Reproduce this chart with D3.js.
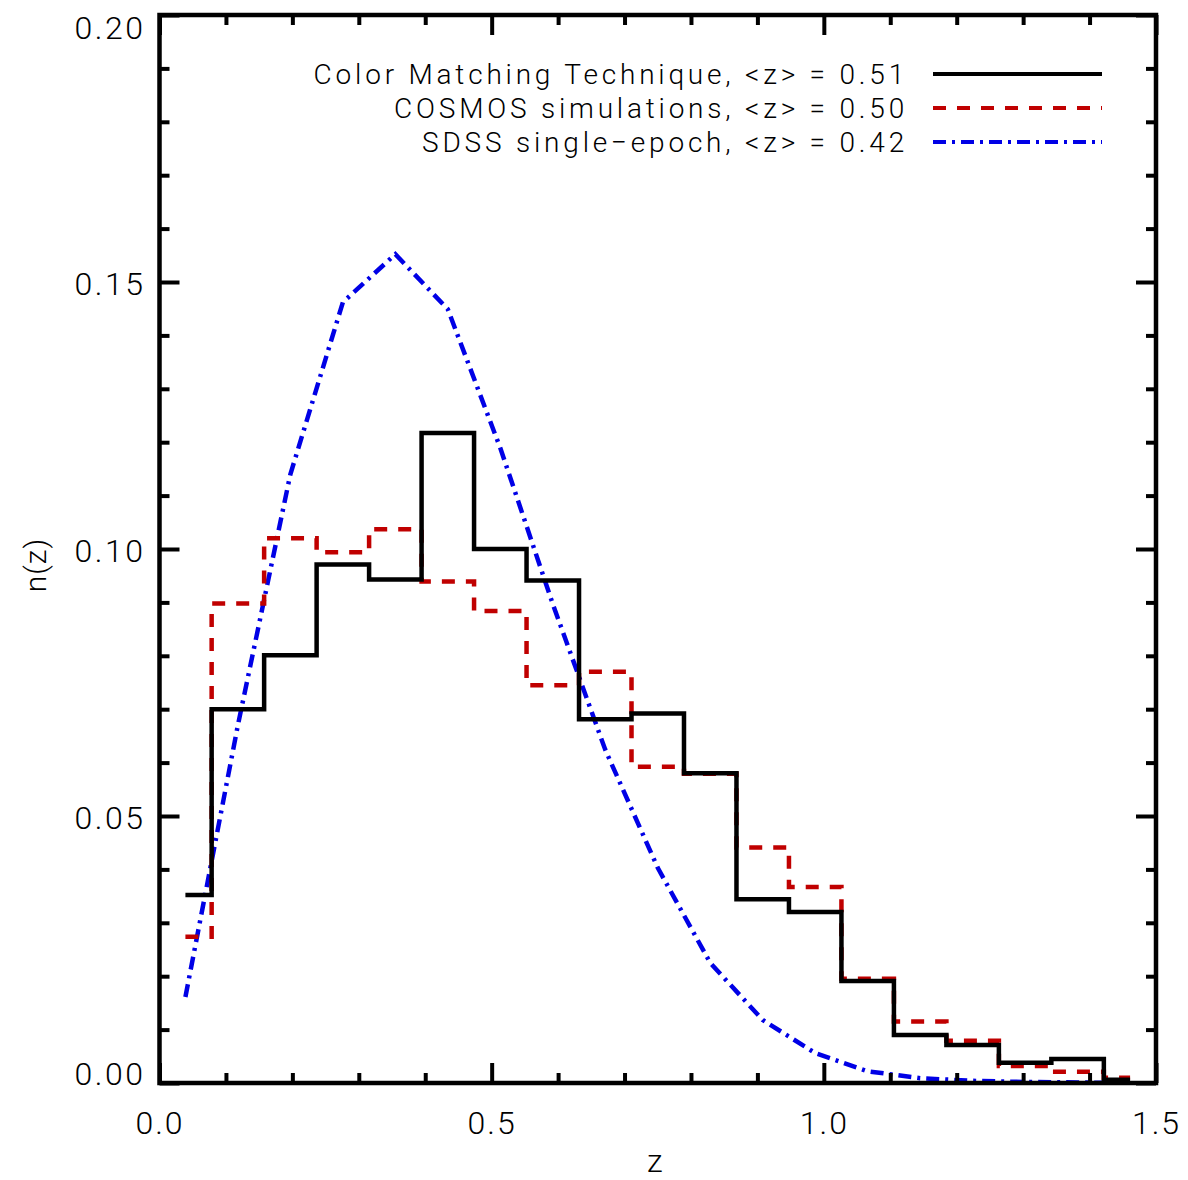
<!DOCTYPE html>
<html>
<head>
<meta charset="utf-8">
<script src="https://cdn.jsdelivr.net/npm/d3@7"></script>
<style>
  body { margin: 0; background: #fff; }
  text { font-family: Roboto, "DejaVu Sans", sans-serif; font-weight: 300; fill: #000; }
</style>
</head>
<body>
<script>
// bin centres in z (19 bins across 0 - 1.5)
const zCenters = [0.039, 0.118, 0.197, 0.276, 0.355, 0.434, 0.513, 0.592, 0.671, 0.750,
                  0.829, 0.908, 0.987, 1.066, 1.145, 1.224, 1.303, 1.382, 1.461];

// Color Matching Technique
const cmtValues = [0.0352, 0.0700, 0.0801, 0.0971, 0.0943, 0.1217, 0.1000, 0.0941, 0.0681, 0.0692,
                   0.0580, 0.0344, 0.0320, 0.0191, 0.0090, 0.0071, 0.0038, 0.0045, 0.0006];
// COSMOS simulations
const cosmosValues = [0.0274, 0.0898, 0.1020, 0.0994, 0.1037, 0.0939, 0.0884, 0.0745, 0.0770, 0.0592,
                      0.0579, 0.0441, 0.0367, 0.0195, 0.0115, 0.0079, 0.0032, 0.0021, 0.0010];
// SDSS single-epoch
const sdssValues = [0.0161, 0.0670, 0.1140, 0.1462, 0.1552, 0.1449, 0.1189, 0.0897, 0.0624, 0.0403,
                    0.0225, 0.0118, 0.0056, 0.0022, 0.0009, 0.0004, 0.0002, 0.0001, 0.0000];

const legendLabels = ["Color Matching Technique, <z> = 0.51",
                      "COSMOS simulations, <z> = 0.50",
                      "SDSS single\u2212epoch, <z> = 0.42"];

const xMajorTicks = [0, 0.5, 1.0, 1.5];
const xTickLabels = ["0.0", "0.5", "1.0", "1.5"];
const xMinorTicks = [0.1, 0.2, 0.3, 0.4, 0.6, 0.7, 0.8, 0.9, 1.1, 1.2, 1.3, 1.4];
const yMajorTicks = [0, 0.05, 0.10, 0.15, 0.20];
const yTickLabels = ["0.00", "0.05", "0.10", "0.15", "0.20"];
const yMinorTicks = [0.01, 0.02, 0.03, 0.04, 0.06, 0.07, 0.08, 0.09,
                     0.11, 0.12, 0.13, 0.14, 0.16, 0.17, 0.18, 0.19];

const w = 1188;
const h = 1180;
const pLeft = 159.5, pRight = 1156, pTop = 15, pBottom = 1083;

const svg = d3.select("body")
  .append("svg")
  .attr("width", w)
  .attr("height", h);

const xScale = d3.scaleLinear().domain([0, 1.5]).range([pLeft, pRight]);
const yScale = d3.scaleLinear().domain([0, 0.2]).range([pBottom, pTop]);

svg.append("clipPath").attr("id", "plotclip")
  .append("rect")
  .attr("x", pLeft).attr("y", pTop)
  .attr("width", pRight - pLeft).attr("height", pBottom - pTop);

// series
const series = [
  { values: cmtValues, color: "#000000", dash: null, curve: d3.curveStep },
  { values: cosmosValues, color: "#c00000", dash: "13,11", curve: d3.curveStep },
  { values: sdssValues, color: "#0000e6", dash: "13,6,3,6", curve: d3.curveLinear }
];

const plot = svg.append("g").attr("clip-path", "url(#plotclip)");

// draw the smooth curve first, then the dashed and solid histograms
[2, 1, 0].forEach((i) => {
  const s = series[i];
  const line = d3.line()
    .x((d, j) => xScale(zCenters[j]))
    .y((d) => yScale(d))
    .curve(s.curve);
  plot.append("path")
    .datum(s.values)
    .attr("d", line)
    .attr("fill", "none")
    .attr("stroke", s.color)
    .attr("stroke-width", 4.5)
    .attr("stroke-dasharray", s.dash);
});

// axes: ticks point inward on all four sides
function styleAxis(g) {
  g.select(".domain").remove();
  g.selectAll(".tick line").attr("stroke", "#000").attr("stroke-width", 4);
}

svg.append("g").attr("transform", "translate(0," + pBottom + ")")
  .call(d3.axisBottom(xScale).tickValues(xMajorTicks).tickSize(-20).tickPadding(50)
    .tickFormat((d, i) => xTickLabels[i]))
  .call(styleAxis)
  .call((g) => g.selectAll(".tick text")
    .attr("y", 51).attr("dy", null)
    .style("font-size", "32px").style("letter-spacing", "2px"));

svg.append("g").attr("transform", "translate(0," + pBottom + ")")
  .call(d3.axisBottom(xScale).tickValues(xMinorTicks).tickSize(-10).tickFormat(""))
  .call(styleAxis);

svg.append("g").attr("transform", "translate(0," + pTop + ")")
  .call(d3.axisTop(xScale).tickValues(xMajorTicks).tickSize(-20).tickFormat(""))
  .call(styleAxis);

svg.append("g").attr("transform", "translate(0," + pTop + ")")
  .call(d3.axisTop(xScale).tickValues(xMinorTicks).tickSize(-10).tickFormat(""))
  .call(styleAxis);

svg.append("g").attr("transform", "translate(" + pLeft + ",0)")
  .call(d3.axisLeft(yScale).tickValues(yMajorTicks).tickSize(-20).tickPadding(14)
    .tickFormat((d, i) => yTickLabels[i]))
  .call(styleAxis)
  .call((g) => g.selectAll(".tick text")
    .attr("dy", null)
    .attr("y", (d) => {
      // keep the end labels inside the frame, like the original
      const ty = yScale(d);
      const base = Math.min(Math.max(ty + 12, pTop + 23), pBottom + 1);
      return base - ty;
    })
    .style("font-size", "32px").style("letter-spacing", "2.5px"));

svg.append("g").attr("transform", "translate(" + pLeft + ",0)")
  .call(d3.axisLeft(yScale).tickValues(yMinorTicks).tickSize(-10).tickFormat(""))
  .call(styleAxis);

svg.append("g").attr("transform", "translate(" + pRight + ",0)")
  .call(d3.axisRight(yScale).tickValues(yMajorTicks).tickSize(-20).tickFormat(""))
  .call(styleAxis);

svg.append("g").attr("transform", "translate(" + pRight + ",0)")
  .call(d3.axisRight(yScale).tickValues(yMinorTicks).tickSize(-10).tickFormat(""))
  .call(styleAxis);

// frame
svg.append("rect")
  .attr("x", pLeft).attr("y", pTop)
  .attr("width", pRight - pLeft).attr("height", pBottom - pTop)
  .attr("fill", "none")
  .attr("stroke", "#000")
  .attr("stroke-width", 4.5);

// axis titles
svg.append("text")
  .attr("x", (pLeft + pRight) / 2 - 3)
  .attr("y", 1172)
  .attr("text-anchor", "middle")
  .style("font-size", "32px")
  .text("z");

svg.append("text")
  .attr("transform", "translate(46," + ((pTop + pBottom) / 2 + 16) + ") rotate(-90)")
  .attr("text-anchor", "middle")
  .style("font-size", "30px")
  .style("letter-spacing", "1px")
  .text("n(z)");

// legend
const legend = svg.append("g");
series.forEach((s, i) => {
  const ly = 74 + i * 34;
  legend.append("text")
    .attr("x", 908)
    .attr("y", ly + 10)
    .attr("text-anchor", "end")
    .style("font-size", "28px")
    .style("letter-spacing", "3.8px")
    .text(legendLabels[i]);
  legend.append("line")
    .attr("x1", 933).attr("x2", 1102)
    .attr("y1", ly).attr("y2", ly)
    .attr("stroke", s.color)
    .attr("stroke-width", 4)
    .attr("stroke-dasharray", s.dash);
});
</script>
</body>
</html>
